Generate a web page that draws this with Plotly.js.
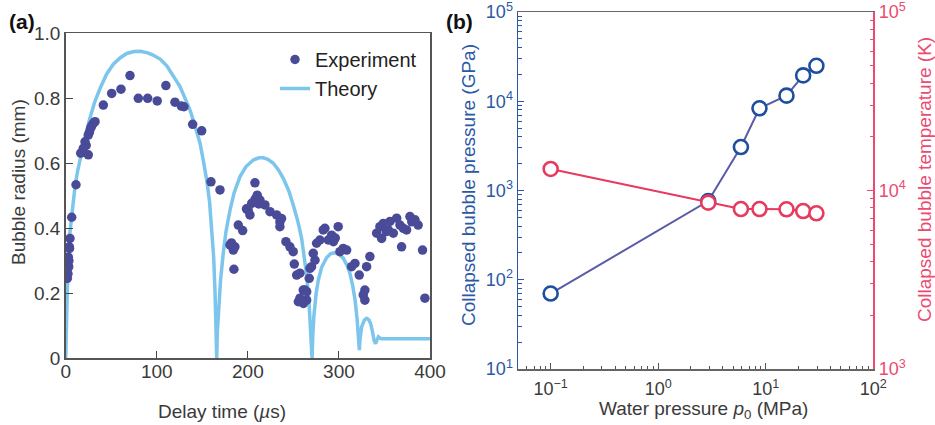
<!DOCTYPE html>
<html>
<head>
<meta charset="utf-8">
<script src="https://cdn.plot.ly/plotly-3.0.1.min.js"></script>
<style>html,body{margin:0;padding:0;background:#fff;}#chart{width:935px;height:425px;}</style>
</head>
<body>
<div id="chart"></div>
<script>
// ---- Panel (a): bubble radius vs delay time ----
const expTime = [1.8,2.2,2.9,3.3,4.0,4.7,3.5,2.5,4.2,6.6,11.3,
  16.5,19.3,24.8,21.2,22.5,24.8,26,27.4,28.5,30.3,32.2,
  41.3,50.5,60.7,70.6,79.7,90,100.5,110,120,127,129.9,139.4,149.3,159.5,169.4,
  180.4,184,185.8,184.7,182,189.5,194.3,200.4,202.3,204.2,198.5,207.8,210.3,213.3,208,212,218.8,224.3,231.6,235.2,235.2,237,
  241.8,246.2,249.8,251,253.6,255.4,257.2,260.8,261,264.5,264.6,262.7,257.2,267.4,268.2,270,
  271.8,273.7,275.5,279.1,282.8,284.6,288.3,292,293.9,296,299.2,301.1,304.7,308.5,313.9,317.6,322.3,326.7,328.5,328.5,330.4,334,
  341.4,345,346.9,348.7,352,354.2,356.1,359.7,363.4,367,368.8,370.7,374.3,378,380,383.5,387,391.8,394.4];
const expRadius = [0.246,0.277,0.311,0.282,0.343,0.369,0.30,0.26,0.338,0.434,0.534,
  0.631,0.646,0.626,0.666,0.655,0.687,0.695,0.708,0.715,0.723,0.728,
  0.779,0.815,0.828,0.870,0.800,0.800,0.792,0.839,0.788,0.776,0.774,0.720,0.700,0.543,0.518,
  0.349,0.333,0.343,0.274,0.355,0.410,0.393,0.456,0.441,0.477,0.460,0.540,0.502,0.487,0.490,0.475,0.472,0.451,0.441,0.420,0.405,0.430,
  0.359,0.343,0.328,0.290,0.256,0.174,0.185,0.210,0.169,0.179,0.205,0.210,0.262,0.246,0.277,0.282,
  0.323,0.302,0.354,0.364,0.395,0.400,0.364,0.379,0.359,0.370,0.405,0.328,0.338,0.333,0.282,0.292,0.256,0.195,0.210,0.179,0.282,0.313,
  0.385,0.405,0.369,0.415,0.390,0.395,0.421,0.385,0.431,0.410,0.343,0.400,0.395,0.436,0.420,0.426,0.410,0.333,0.185];

const theoryTime = [0,0.8,1.5,2.5,4,6,8,10.2,13,17.6,22,26.7,32,37.7,45,52.3,60,67,75,82,90,96,104,111,118,125.5,131,136.5,142,147.5,151,154.8,158,160.3,162.5,164,165,165.8,
  166.5,167.6,170,173,176,180.4,185,191.4,198,206,212,217,222,228,234,239,245,250,255,259,262,264.6,267,269,270.5,
  271.3,272.5,275,277.4,281,286.6,291,295.7,300,304.8,309,312,315,317.7,320,321.3,322.4,
  323.2,325,328,330.5,333,335,337,338.5,340.2,341.5,343.3,345,347,352,400];
const theoryRadius = [0,0.12,0.22,0.30,0.37,0.43,0.48,0.528,0.575,0.64,0.69,0.74,0.79,0.83,0.875,0.905,0.925,0.938,0.944,0.945,0.94,0.933,0.92,0.90,0.87,0.836,0.80,0.764,0.715,0.662,0.61,0.549,0.48,0.405,0.31,0.20,0.10,0.0,
  0.08,0.149,0.24,0.323,0.39,0.456,0.51,0.559,0.59,0.61,0.617,0.617,0.612,0.60,0.578,0.553,0.515,0.47,0.42,0.37,0.31,0.255,0.18,0.09,0.0,
  0.07,0.13,0.20,0.241,0.28,0.31,0.322,0.325,0.32,0.308,0.285,0.262,0.225,0.18,0.12,0.077,0.025,
  0.06,0.097,0.118,0.123,0.118,0.105,0.08,0.056,0.045,0.055,0.066,0.062,0.06,0.06,0.06];

const aXTicks = [0,100,200,300,400];
const aYTicks = [0,0.2,0.4,0.6,0.8,1.0];
const aYTickText = ['0','0.2','0.4','0.6','0.8','1.0'];

// ---- Panel (b): collapsed bubble pressure / temperature vs water pressure ----
const waterPressure = [0.1,2.92,5.88,8.75,15.6,22.3,29.6];
const bubblePressure = [70,760,3070,8340,11560,19500,25000];
const bubbleTemperature = [13200,8550,7870,7870,7850,7670,7450];

const bXTicks = [0.1,1,10,100];
const bXTickText = ['10<sup>−1</sup>','10<sup>0</sup>','10<sup>1</sup>','10<sup>2</sup>'];
const bXMinor = [0.05,0.06,0.07,0.08,0.09,0.2,0.3,0.4,0.5,0.6,0.7,0.8,0.9,2,3,4,5,6,7,8,9,20,30,40,50,60,70,80,90];
const bYTicks = [10,100,1000,10000,100000];
const bYTickText = ['10<sup>1</sup>','10<sup>2</sup>','10<sup>3</sup>','10<sup>4</sup>','10<sup>5</sup>'];
const bYMinor = [20,30,40,50,60,70,80,90,200,300,400,500,600,700,800,900,2000,3000,4000,5000,6000,7000,8000,9000,20000,30000,40000,50000,60000,70000,80000,90000];
const bY2Ticks = [1000,10000,100000];
const bY2TickText = ['10<sup>3</sup>','10<sup>4</sup>','10<sup>5</sup>'];
const bY2Minor = [2000,3000,4000,5000,6000,7000,8000,9000,20000,30000,40000,50000,60000,70000,80000,90000];

const W = 935, H = 425;
const FONT = 'Liberation Sans, Arial, sans-serif';
const BLUE = '#2a58a6', PINK = '#ec4a70', GRAY = '#3a3a3a';

const traces = [
  {x: theoryTime, y: theoryRadius, type: 'scatter', mode: 'lines', name: 'Theory',
   line: {color: '#7cc5ec', width: 3.5}, xaxis: 'x', yaxis: 'y', legendrank: 2},
  {x: expTime, y: expRadius, type: 'scatter', mode: 'markers', name: 'Experiment',
   marker: {color: '#4a4b98', size: 9.5}, xaxis: 'x', yaxis: 'y', legendrank: 1},
  {x: waterPressure, y: bubblePressure, type: 'scatter', mode: 'lines+markers', showlegend: false,
   line: {color: '#5a5ca8', width: 2},
   marker: {symbol: 'circle', size: 14, color: '#ffffff', line: {color: '#1d4f9e', width: 2.6}},
   xaxis: 'x2', yaxis: 'y3'},
  {x: waterPressure, y: bubbleTemperature, type: 'scatter', mode: 'lines+markers', showlegend: false,
   line: {color: '#e8395e', width: 2},
   marker: {symbol: 'circle', size: 14, color: '#ffffff', line: {color: '#e8395e', width: 2.6}},
   xaxis: 'x2', yaxis: 'y4'}
];

const px = v => v / W, py = v => 1 - v / H;
const ann = (text, x, y, opts) => Object.assign({text: text, xref: 'paper', yref: 'paper', x: px(x), y: py(y),
  xanchor: 'center', yanchor: 'middle', showarrow: false}, opts);

const layout = {
  width: W, height: H,
  margin: {l: 0, r: 0, t: 0, b: 0},
  paper_bgcolor: '#fff', plot_bgcolor: '#fff',
  font: {family: FONT, size: 19, color: GRAY},
  showlegend: true,
  legend: {x: px(275), y: py(40), xanchor: 'left', yanchor: 'top', bgcolor: 'rgba(0,0,0,0)',
           font: {family: FONT, size: 20, color: '#222'}, tracegroupgap: 0},
  xaxis: {domain: [px(65.7), px(430)], range: [0, 400], tickmode: 'array', tickvals: aXTicks,
          ticks: 'inside', ticklen: 7, tickcolor: '#444', showline: true, linecolor: '#555', linewidth: 1.5,
          mirror: true, showgrid: false, zeroline: false, anchor: 'y', ticklabeloverflow: 'allow',
          ticklabelstandoff: -5, tickfont: {size: 19, color: GRAY}},
  yaxis: {domain: [py(358.3), py(33.3)], range: [0, 1], tickmode: 'array', tickvals: aYTicks, ticktext: aYTickText,
          ticks: 'inside', ticklen: 7, tickcolor: '#444', showline: true, linecolor: '#555', linewidth: 1.5,
          mirror: true, showgrid: false, zeroline: false, anchor: 'x', ticklabeloverflow: 'allow',
          tickfont: {size: 19, color: GRAY}},
  xaxis2: {domain: [px(518.3), px(873.3)], type: 'log', range: [Math.log10(0.05), 2.0005],
           tickmode: 'array', tickvals: bXTicks, ticktext: bXTickText,
           ticks: 'inside', ticklen: 6, tickcolor: '#555',
           minor: {tickmode: 'array', tickvals: bXMinor, ticks: 'inside', ticklen: 3.5, tickcolor: '#555', showgrid: false},
           showline: true, linecolor: '#666', linewidth: 1.5, mirror: true, showgrid: false, zeroline: false,
           anchor: 'y3', ticklabeloverflow: 'allow', ticklabelstandoff: 3, tickfont: {size: 18, color: GRAY}},
  yaxis3: {domain: [py(369), py(12)], type: 'log', range: [0.9995, 5.0005],
           tickmode: 'array', tickvals: bYTicks, ticktext: bYTickText,
           ticks: 'inside', ticklen: 6, tickcolor: BLUE,
           minor: {tickmode: 'array', tickvals: bYMinor, ticks: 'inside', ticklen: 3.5, tickcolor: BLUE, showgrid: false},
           showline: true, linecolor: BLUE, linewidth: 1.8, showgrid: false, zeroline: false,
           anchor: 'x2', side: 'left', ticklabeloverflow: 'allow', tickfont: {size: 18, color: BLUE}},
  yaxis4: {domain: [py(369), py(12)], type: 'log', range: [2.9995, 5.0005], overlaying: 'y3', side: 'right',
           tickmode: 'array', tickvals: bY2Ticks, ticktext: bY2TickText,
           ticks: 'inside', ticklen: 6, tickcolor: PINK,
           minor: {tickmode: 'array', tickvals: bY2Minor, ticks: 'inside', ticklen: 3.5, tickcolor: PINK, showgrid: false},
           showline: true, linecolor: PINK, linewidth: 1.8, showgrid: false, zeroline: false,
           anchor: 'x2', ticklabeloverflow: 'allow', tickfont: {size: 18, color: PINK}},
  annotations: [
    ann('<b>(a)</b>', 22, 21, {font: {size: 21, color: '#111'}}),
    ann('<b>(b)</b>', 459, 21, {font: {size: 21, color: '#111'}}),
    ann('Delay time (<i>µ</i>s)', 222, 411, {font: {size: 19, color: GRAY}}),
    ann('Bubble radius (mm)', 18, 182, {textangle: -90, font: {size: 19, color: GRAY}}),
    ann('Water pressure <i>p</i><sub>0</sub> (MPa)', 703, 410, {font: {size: 19, color: GRAY}}),
    ann('Collapsed bubble pressure (GPa)', 468, 185, {textangle: -90, font: {size: 19, color: BLUE}}),
    ann('Collapsed bubble temperature (K)', 924, 180, {textangle: -90, font: {size: 19, color: PINK}})
  ]
};

Plotly.newPlot('chart', traces, layout, {displayModeBar: false, staticPlot: true});
</script>
</body>
</html>
